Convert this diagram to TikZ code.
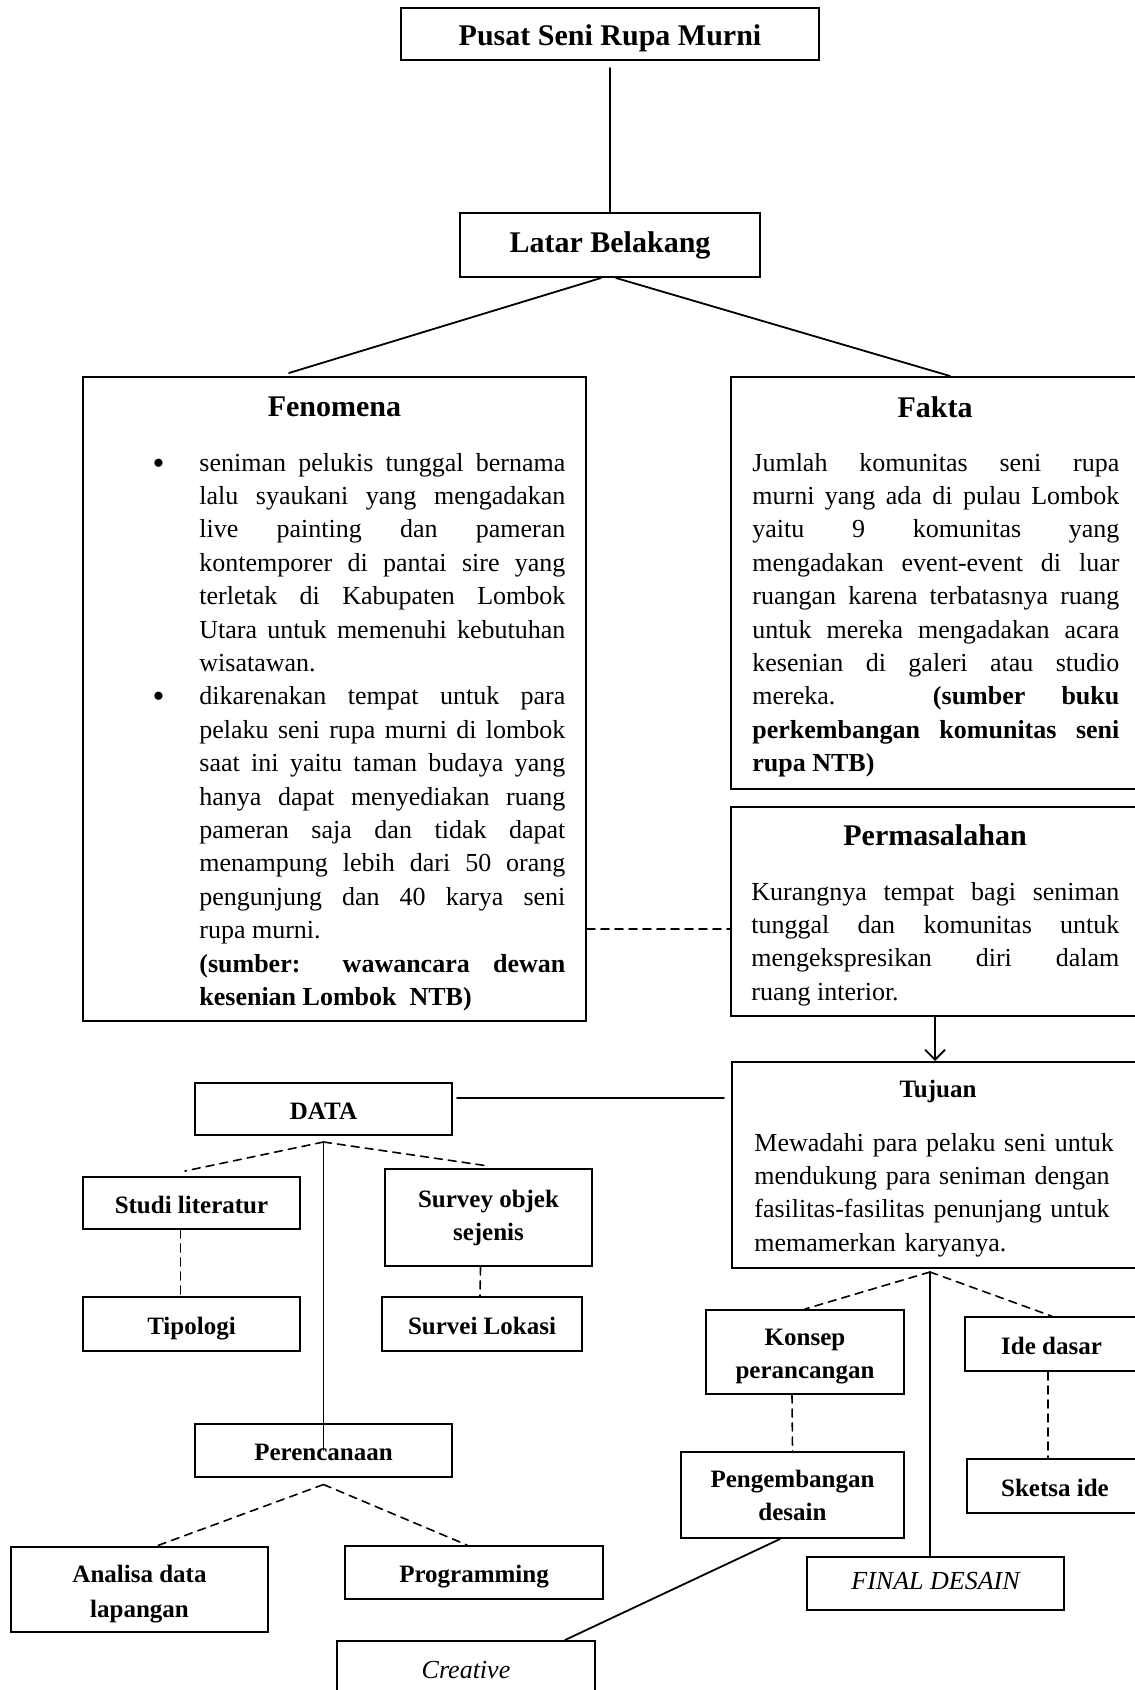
\documentclass[tikz,border=0pt]{standalone}
\usepackage{fontspec}
\setmainfont{Liberation Serif}
\usetikzlibrary{arrows.meta}
\tolerance=10000
\hbadness=10000
\hyphenpenalty=10000
\newcommand{\bigbullet}{\leavevmode\llap{\raisebox{-1.5pt}{\fontsize{17}{17}\selectfont\textbullet}\hspace{17.5pt}}}
\begin{document}
\begin{tikzpicture}[
    x=.5pt, y=-.5pt,
    line cap=round,
    every node/.style={inner sep=0pt},
    block/.style={draw, line width=1pt},
    smallbox/.style={block, align=center,
      font=\fontsize{12.5}{16.5}\selectfont\bfseries},
    oneline/.style={text height=11pt, text depth=1pt},
    boxtitle/.style={anchor=base,
      font=\fontsize{15}{18}\selectfont\bfseries},
    boxtext/.style={anchor=base west, align=justify,
      font=\fontsize{13}{16.7}\selectfont},
    conn/.style={line width=.9pt},
    dashlink/.style={line width=.8pt, dash pattern=on 4pt off 3pt}
]
  \useasboundingbox (0,0) rectangle (1134,1690);

  \node[block, minimum width=209pt, minimum height=26pt,
    text height=13pt, text depth=1pt,
    font=\fontsize{15}{18}\selectfont\bfseries] (pusat) at (610,34)
    {Pusat Seni Rupa Murni};
  \node[block, minimum width=150pt, minimum height=32pt,
    font=\fontsize{15}{18}\selectfont\bfseries] (latar) at (610,245)
    {Latar Belakang};

  \node[block, minimum width=251.5pt, minimum height=322pt] (fen) at (334.5,699) {};
  \node[boxtitle] (fentitle) at (334.5,416) {Fenomena};
  \node[boxtext, text width=183pt] (fentext) at (199,471) {%
    \bigbullet seniman pelukis tunggal bernama\linebreak
    lalu syaukani yang mengadakan\linebreak
    live painting dan pameran\linebreak
    kontemporer di pantai sire yang\linebreak
    terletak di Kabupaten Lombok\linebreak
    Utara untuk memenuhi kebutuhan\linebreak
    wisatawan.\par
    \bigbullet dikarenakan tempat untuk para\linebreak
    pelaku seni rupa murni di lombok\linebreak
    saat ini yaitu taman budaya yang\linebreak
    hanya dapat menyediakan ruang\linebreak
    pameran saja dan tidak dapat\linebreak
    menampung lebih dari 50 orang\linebreak
    pengunjung dan 40 karya seni\linebreak
    rupa murni.\par
    \textbf{(sumber: wawancara dewan\linebreak
    kesenian Lombok\enspace NTB)}};

  \node[block, minimum width=204pt, minimum height=206pt] (fakta) at (935,583) {};
  \node[boxtitle] (faktitle) at (935,417) {Fakta};
  \node[boxtext, text width=183.5pt] (faktext) at (752,471) {%
    Jumlah komunitas seni rupa\linebreak
    murni yang ada di pulau Lombok\linebreak
    yaitu 9 komunitas yang\linebreak
    mengadakan \mbox{event-event} di luar\linebreak
    ruangan karena terbatasnya ruang\linebreak
    untuk mereka mengadakan acara\linebreak
    kesenian di galeri atau studio\linebreak
    mereka. \textbf{(sumber buku\linebreak
    perkembangan komunitas seni\linebreak
    rupa NTB)}};

  \node[block, minimum width=204pt, minimum height=104.5pt] (pm) at (935,911.5) {};
  \node[boxtitle] (pmtitle) at (935,845) {Permasalahan};
  \node[boxtext, text width=184pt] (pmtext) at (751,900) {%
    Kurangnya tempat bagi seniman\linebreak
    tunggal dan komunitas untuk\linebreak
    mengekspresikan diri dalam\linebreak
    ruang interior.};

  \node[block, minimum width=203pt, minimum height=103pt] (tuj) at (935,1165) {};
  \node[boxtitle, font=\fontsize{12.5}{15}\selectfont\bfseries] (tujtitle)
    at (938,1097) {Tujuan};
  \node[boxtext, align=left, text width=183pt] (tujtext) at (754,1151) {%
    Mewadahi para pelaku seni untuk\\
    mendukung para seniman dengan\\
    fasilitas-fasilitas penunjang untuk\\
    memamerkan karyanya.};

  \node[smallbox, oneline, minimum width=128.5pt, minimum height=26pt] (data) at (323.5,1109) {DATA};
  \node[smallbox, oneline, minimum width=108.5pt, minimum height=26pt] (studi) at (191.5,1203) {Studi literatur};
  \node[smallbox, minimum width=103.5pt, minimum height=48.5pt] (survey) at (488.5,1217.5) {Survey objek\\sejenis};
  \node[smallbox, oneline, minimum width=108.5pt, minimum height=27pt] (tipologi) at (191.5,1324) {Tipologi};
  \node[smallbox, oneline, minimum width=100pt, minimum height=27pt] (survei) at (482,1324) {Survei Lokasi};
  \node[smallbox, oneline, minimum width=128.5pt, minimum height=26.5pt] (peren) at (323.5,1450) {Perencanaan};
  \node[smallbox, minimum width=128.5pt, minimum height=42.5pt,
    font=\fontsize{12.5}{17.3}\selectfont\bfseries] (analisa) at (139.5,1589.5)
    {\rule{0pt}{13pt}Analisa data\\lapangan};
  \node[smallbox, oneline, minimum width=129pt, minimum height=26.5pt] (program) at (474,1572.5) {Programming};
  \node[smallbox, oneline, minimum width=129pt, minimum height=27pt,
    font=\fontsize{13}{16}\selectfont\itshape] (creative) at (466,1668) {Creative};

  \node[smallbox, minimum width=99pt, minimum height=42pt] (konsep) at (805,1352)
    {\rule{0pt}{13pt}Konsep\\perancangan};
  \node[smallbox, oneline, minimum width=86.5pt, minimum height=27pt] (ide) at (1051.5,1344) {Ide dasar};
  \node[smallbox, minimum width=111.5pt, minimum height=43pt] (kembang) at (792.5,1495) {Pengembangan\\desain};
  \node[smallbox, oneline, minimum width=88pt, minimum height=27pt] (sketsa) at (1055,1486) {Sketsa ide};
  \node[smallbox, minimum width=128.5pt, minimum height=26.5pt,
    text height=8pt, text depth=2pt,
    font=\fontsize{13}{16}\selectfont\itshape] (final) at (935.5,1583.5) {FINAL DESAIN};

  \draw[conn, shorten <=3.5pt] (pusat) -- (latar);
  \draw[conn] ([xshift=-4.5pt]latar.south) -- ([xshift=-22.75pt, yshift=1.5pt]fen.north);
  \draw[conn] ([xshift=3pt]latar.south) -- ([xshift=7.5pt]fakta.north);

  \coordinate (d) at ([yshift=-8.75pt]pm.west);
  \draw[dashlink] (d -| fen.east) -- (d);
  \draw[conn, -{Straight Barb[length=5pt,width=10pt]}] (pm) -- (tuj);

  \coordinate (e) at ([yshift=5.5pt]data.east);
  \draw[conn, shorten <=2pt, shorten >=3.5pt] (e) -- (e -| tuj.west);

  \coordinate (dh) at ([yshift=-3pt]data.south);
  \draw[dashlink] (dh) -- ([xshift=-3.25pt, yshift=2.5pt]studi.north);
  \draw[dashlink] (dh) -- ([yshift=1pt]survey.north);
  \draw[conn] (dh) -- (peren.center);
  \draw[dashlink] ([xshift=-5.5pt]studi.south) -- ([xshift=-5.5pt]tipologi.north);
  \draw[dashlink] ([xshift=-4pt]survey.south) -- ([xshift=-1pt]survei.north);

  \coordinate (ph) at ([yshift=-3.5pt]peren.south);
  \draw[dashlink] (ph) -- ([xshift=8.5pt]analisa.north);
  \draw[dashlink] (ph) -- ([xshift=-3.5pt]program.north);

  \coordinate (th) at ([xshift=-2.5pt, yshift=-1.5pt]tuj.south);
  \draw[conn] (th) -- (th |- final.north);
  \draw[dashlink] (th) -- (konsep.north);
  \draw[dashlink] (th) -- (ide.north);
  \draw[dashlink] ([xshift=-6.5pt]konsep.south) -- (kembang.north);
  \draw[dashlink] ([xshift=-1.75pt]ide.south) -- ([xshift=-3.5pt]sketsa.north);
  \draw[conn] ([xshift=-6.25pt]kembang.south) -- ([xshift=49.5pt]creative.north);
\end{tikzpicture}
\end{document}
